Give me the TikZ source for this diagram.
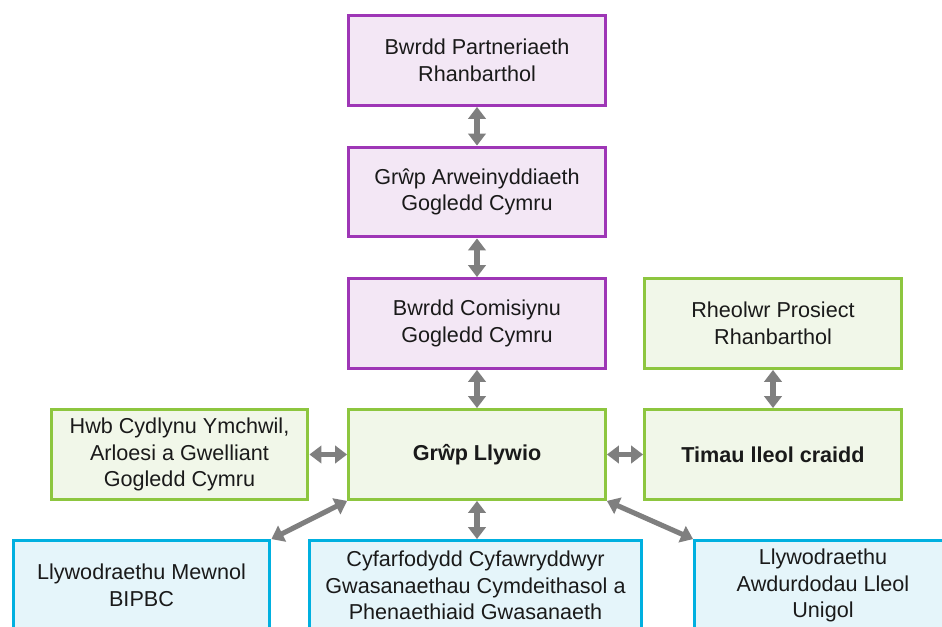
\documentclass[tikz,border=0pt]{standalone}
\usepackage{fontspec}
\setmainfont{Liberation Sans}
\usetikzlibrary{arrows.meta}
\definecolor{purpB}{HTML}{9E36B6}
\definecolor{purpF}{HTML}{F3E7F5}
\definecolor{greenB}{HTML}{8DC63F}
\definecolor{greenF}{HTML}{F1F7E9}
\definecolor{blueB}{HTML}{00B0E0}
\definecolor{blueF}{HTML}{E5F5FA}
\definecolor{arrG}{HTML}{7F7F7F}
\definecolor{txt}{HTML}{1A1A1A}
\tikzset{
  box/.style={draw, line width=2.5pt, minimum width=256.5*0.75pt, minimum height=89.5*0.75pt,
    align=center, inner sep=2pt, text=txt, font=\fontsize{16.2pt}{20pt}\selectfont},
  pbox/.style={box, draw=purpB, fill=purpF},
  gbox/.style={box, draw=greenB, fill=greenF},
  bbox/.style={box, draw=blueB, fill=blueF},
  link/.style={draw=arrG, line width=3.8pt, {Triangle[width=13pt,length=9pt]}-{Triangle[width=13pt,length=9pt]}}
}
\begin{document}
\begin{tikzpicture}[x=0.75pt,y=-0.75pt]
\clip (0,0) rectangle (942,627);
\fill[white] (0,0) rectangle (942,627);
\node[pbox] (b1) at (477,60.5) {Bwrdd Partneriaeth\\Rhanbarthol};
\node[pbox] (b2) at (477,192) {Grŵp Arweinyddiaeth\\Gogledd Cymru};
\node[pbox] (b3) at (477,323.5) {Bwrdd Comisiynu\\Gogledd Cymru};
\node[gbox] (rh) at (773,323.5) {Rheolwr Prosiect\\Rhanbarthol};
\node[gbox] (ll) at (477,454.5) {\textbf{Grŵp Llywio}};
\node[gbox] (tm) at (773,454.5) {\textbf{Timau lleol craidd}};
\node[gbox] (hw) at (179.5,454.5) {Hwb Cydlynu Ymchwil,\\Arloesi a Gwelliant\\Gogledd Cymru};
\node[bbox] (mw) at (141.5,585.5) {Llywodraethu Mewnol\\BIPBC};
\node[bbox, minimum width=331.5*0.75pt] (cy) at (475.5,585.5) {Cyfarfodydd Cyfawryddwyr\\Gwasanaethau Cymdeithasol a\\Phenaethiaid Gwasanaeth};
\node[bbox] (aw) at (823,585.5) {Llywodraethu\\Awdurdodau Lleol\\Unigol};
\draw[link] (b1.south) -- (b2.north);
\draw[link] (b2.south) -- (b3.north);
\draw[link] (b3.south) -- (ll.north);
\draw[link] (rh.south) -- (tm.north);
\draw[link] (hw.east) -- (ll.west);
\draw[link] (ll.east) -- (tm.west);
\draw[link] (ll.south) -- (ll.south |- cy.north);
\draw[link] (ll.south west) -- (mw.north east);
\draw[link] (ll.south east) -- (aw.north west);
\end{tikzpicture}
\end{document}
